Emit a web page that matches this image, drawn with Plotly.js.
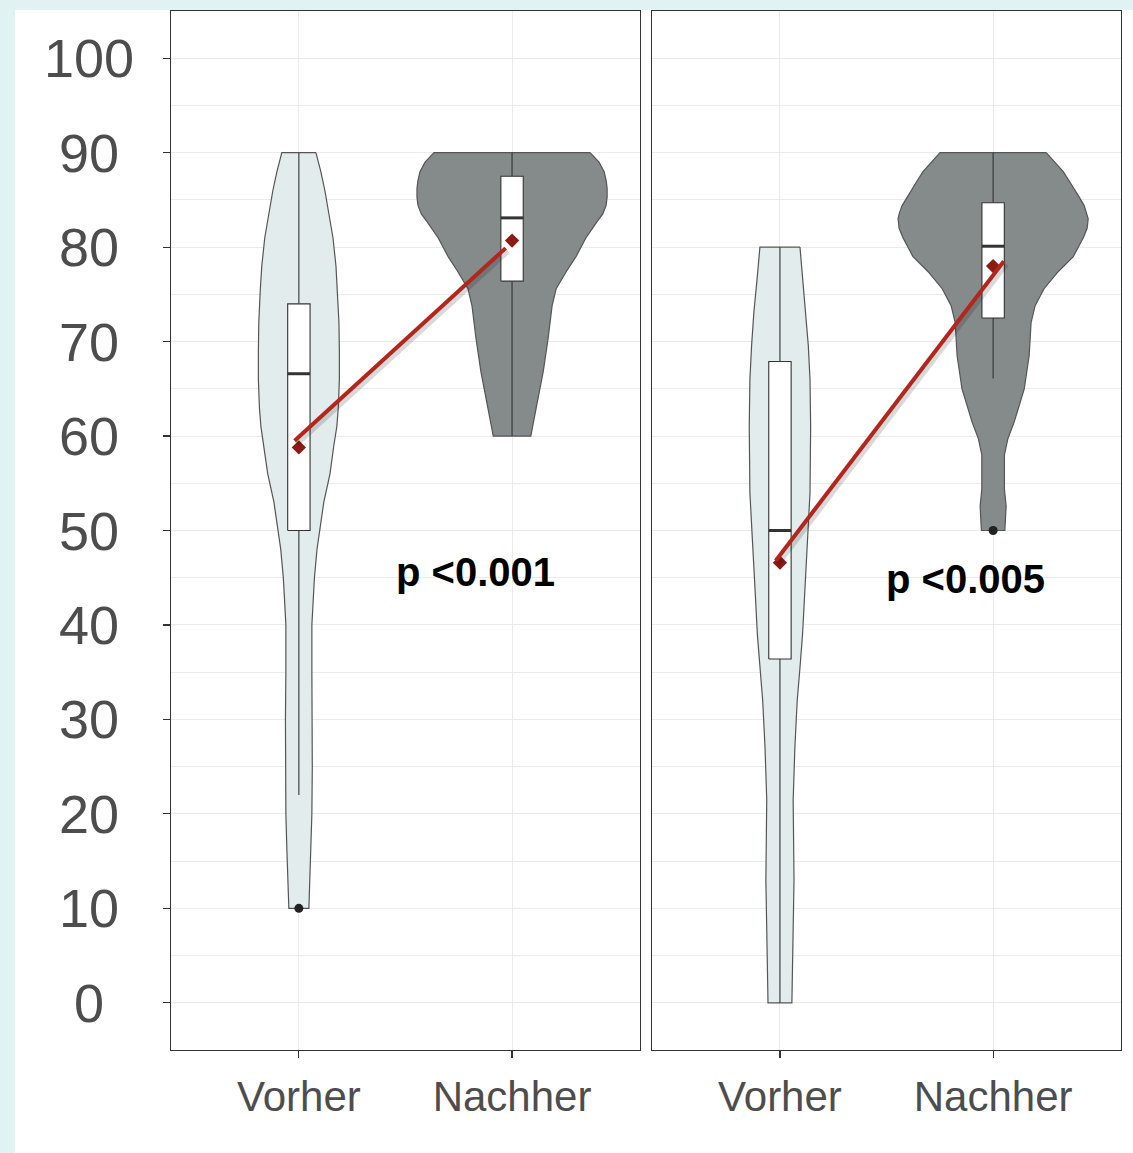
<!DOCTYPE html>
<html>
<head>
<meta charset="utf-8">
<script src="https://cdn.plot.ly/plotly-3.0.1.min.js"></script>
<style>
  html, body { margin: 0; padding: 0; background: #e0f2f2; width: 1133px; height: 1153px; overflow: hidden; }
  #chart { position: absolute; left: 15px; top: 10px; width: 1118px; height: 1143px; background: #ffffff; }
</style>
</head>
<body>
<div id="chart"></div>
<script>
// ---------------- data ----------------
const categories = ['Vorher', 'Nachher'];
const yTicks = [0, 10, 20, 30, 40, 50, 60, 70, 80, 90, 100];

// violin outlines: y levels and half-widths (category units)
const leftVorherY  = [90, 88, 86, 83, 81, 78, 75.5, 72, 69, 66, 63, 61, 59, 56, 53, 51, 48, 45, 43, 40, 35, 30, 25, 20, 16, 12.5, 10];
const leftVorherW  = [0.080, 0.103, 0.122, 0.146, 0.160, 0.174, 0.181, 0.188, 0.190, 0.190, 0.185, 0.178, 0.164, 0.146, 0.117, 0.103, 0.085, 0.073, 0.068, 0.061, 0.061, 0.063, 0.063, 0.061, 0.056, 0.052, 0.047];
const leftNachherY = [90, 89, 88, 87, 86.2, 85.3, 84.4, 83.5, 82.7, 81, 79, 77.4, 75.6, 73.8, 70.3, 66.8, 63.2, 60];
const leftNachherW = [0.366, 0.408, 0.432, 0.442, 0.446, 0.446, 0.441, 0.425, 0.399, 0.347, 0.300, 0.254, 0.207, 0.188, 0.169, 0.146, 0.115, 0.088];
const rightVorherY  = [80, 76.7, 73.2, 69.6, 66, 61, 54, 48.4, 43, 39, 35.5, 32, 27, 21.5, 13, 7.5, 4, 0];
const rightVorherW  = [0.094, 0.107, 0.122, 0.133, 0.141, 0.144, 0.141, 0.128, 0.115, 0.106, 0.094, 0.081, 0.070, 0.062, 0.066, 0.062, 0.060, 0.056];
const rightNachherY = [90, 89, 88, 87, 86.2, 85.3, 84.4, 83.6, 83, 82, 81, 79, 77.4, 75.6, 73.8, 72, 68.5, 65, 61.5, 59.7, 58, 54.4, 52.6, 50];
const rightNachherW = [0.249, 0.291, 0.329, 0.357, 0.380, 0.404, 0.427, 0.440, 0.446, 0.441, 0.423, 0.376, 0.305, 0.239, 0.197, 0.178, 0.169, 0.146, 0.099, 0.069, 0.053, 0.053, 0.061, 0.055];

// box statistics [Vorher, Nachher]
const leftQ1 = [50, 76.4],  leftMedian = [66.6, 83.1],  leftQ3 = [74, 87.5],  leftLow = [22, 60],  leftHigh = [90, 90];
const rightQ1 = [36.4, 72.5], rightMedian = [50, 80.1], rightQ3 = [67.9, 84.7], rightLow = [0, 66.1], rightHigh = [80, 90];
const leftMean = [58.8, 80.7];
const rightMean = [46.6, 78.0];
const leftOutliers = [10, null];
const rightOutliers = [null, 50];

// red connecting lines (as drawn)
const leftLineX = [0.98, 1.97],  leftLineY = [59.5, 79.9];
const rightLineX = [0.98, 2.05], rightLineY = [46.8, 78.5];

// p-value labels
const pLabels = ['p <0.001', 'p <0.005'];
const pX = [1.83, 1.87];
const pY = [45.6, 44.9];

// ---------------- drawing ----------------
const catPos = [1, 2];
const boxWidth = 0.105;
const lightFill = '#e2ecec', darkFill = '#848b8a';
const inkCol = '#333333';

function violin(c, ys, ws, fill, xa, ya) {
  const xs = [], yy = [];
  for (let i = 0; i < ys.length; i++) { xs.push(c + ws[i]); yy.push(ys[i]); }
  for (let i = ys.length - 1; i >= 0; i--) { xs.push(c - ws[i]); yy.push(ys[i]); }
  xs.push(xs[0]); yy.push(yy[0]);
  return { type: 'scatter', mode: 'lines', x: xs, y: yy, fill: 'toself', fillcolor: fill,
           line: { color: '#555555', width: 1.2 }, xaxis: xa, yaxis: ya, hoverinfo: 'skip', showlegend: false };
}

function boxes(q1, med, q3, lo, hi, xa, ya) {
  const out = [];
  const h = boxWidth / 2;
  for (let i = 0; i < 2; i++) {
    const c = catPos[i];
    out.push({ type: 'scatter', mode: 'lines', x: [c, c, null, c, c], y: [q3[i], hi[i], null, q1[i], lo[i]],
      line: { color: inkCol, width: 1.1 }, xaxis: xa, yaxis: ya, hoverinfo: 'skip', showlegend: false });
    out.push({ type: 'scatter', mode: 'lines', x: [c - h, c + h, c + h, c - h, c - h],
      y: [q1[i], q1[i], q3[i], q3[i], q1[i]], fill: 'toself', fillcolor: '#ffffff',
      line: { color: inkCol, width: 1.1 }, xaxis: xa, yaxis: ya, hoverinfo: 'skip', showlegend: false });
    out.push({ type: 'scatter', mode: 'lines', x: [c - h, c + h], y: [med[i], med[i]],
      line: { color: inkCol, width: 3 }, xaxis: xa, yaxis: ya, hoverinfo: 'skip', showlegend: false });
  }
  return out;
}

function outliers(vals, xa, ya) {
  const xs = [], ys = [];
  vals.forEach((v, i) => { if (v !== null) { xs.push(catPos[i]); ys.push(v); } });
  return { type: 'scatter', mode: 'markers', x: xs, y: ys, marker: { color: '#222222', size: 9 },
           xaxis: xa, yaxis: ya, hoverinfo: 'skip', showlegend: false };
}

function redLine(xs, ys, xa, ya) {
  return [
    { type: 'scatter', mode: 'lines', x: xs.map(v => v + 0.01), y: ys.map(v => v - 0.3),
      line: { color: 'rgba(0,0,0,0.15)', width: 6 }, xaxis: xa, yaxis: ya, hoverinfo: 'skip', showlegend: false },
    { type: 'scatter', mode: 'lines', x: xs, y: ys, line: { color: '#b3261c', width: 4 },
      xaxis: xa, yaxis: ya, hoverinfo: 'skip', showlegend: false }
  ];
}

function means(vals, xa, ya) {
  return { type: 'scatter', mode: 'markers', x: catPos, y: vals,
           marker: { symbol: 'diamond', color: '#8b1a14', size: 11 }, xaxis: xa, yaxis: ya,
           hoverinfo: 'skip', showlegend: false };
}

const traces = [
  violin(1, leftVorherY, leftVorherW, lightFill, 'x', 'y'),
  violin(2, leftNachherY, leftNachherW, darkFill, 'x', 'y'),
  violin(1, rightVorherY, rightVorherW, lightFill, 'x2', 'y2'),
  violin(2, rightNachherY, rightNachherW, darkFill, 'x2', 'y2'),
  ...boxes(leftQ1, leftMedian, leftQ3, leftLow, leftHigh, 'x', 'y'),
  ...boxes(rightQ1, rightMedian, rightQ3, rightLow, rightHigh, 'x2', 'y2'),
  outliers(leftOutliers, 'x', 'y'),
  outliers(rightOutliers, 'x2', 'y2'),
  means(leftMean, 'x', 'y'),
  means(rightMean, 'x2', 'y2'),
  ...redLine(leftLineX, leftLineY, 'x', 'y'),
  ...redLine(rightLineX, rightLineY, 'x2', 'y2')
];

const fontFam = 'Liberation Sans, Arial, Helvetica, sans-serif';
const gridCol = '#ebebeb';

function xAxis(domain, anchor) {
  return { domain: domain, anchor: anchor, range: [0.4, 2.6], tickvals: catPos, ticktext: categories,
    showgrid: true, gridcolor: gridCol, gridwidth: 1, zeroline: false,
    showline: true, mirror: true, linecolor: '#333333', linewidth: 1.4,
    ticks: 'outside', ticklen: 7, tickcolor: '#333333', tickwidth: 1.2,
    ticklabelstandoff: 2,
    tickfont: { family: fontFam, size: 42, color: '#4d4d4d' }, fixedrange: true };
}
function yAxis(anchor, ticks) {
  return { domain: [0.0901, 0.9991], anchor: anchor, range: [-5, 105], tickvals: yTicks,
    showgrid: true, gridcolor: gridCol, gridwidth: 1, zeroline: false,
    minor: { dtick: 5, tick0: 0, showgrid: true, gridcolor: gridCol, gridwidth: 1, ticks: '' },
    showline: true, mirror: true, linecolor: '#333333', linewidth: 1.4,
    ticks: ticks ? 'outside' : '', ticklen: 7, tickcolor: '#333333', tickwidth: 1.2,
    showticklabels: false, fixedrange: true };
}

// y tick labels: centred horizontally (as in the reference)
const yLabelAnnotations = yTicks.map(v => ({
  text: String(v), x: 0.0662, xref: 'paper', y: v, yref: 'y', showarrow: false,
  xanchor: 'center', yanchor: 'middle',
  font: { family: fontFam, size: 54, color: '#4d4d4d' }
}));

const pAnnotations = pLabels.map((t, i) => ({
  text: t, x: pX[i], y: pY[i], xref: i === 0 ? 'x' : 'x2', yref: i === 0 ? 'y' : 'y2',
  showarrow: false, font: { family: fontFam, size: 40, color: '#000000', weight: 'bold' },
  xanchor: 'center', yanchor: 'middle'
}));

const layout = {
  width: 1118, height: 1143,
  margin: { l: 0, r: 0, t: 0, b: 0 },
  paper_bgcolor: '#ffffff', plot_bgcolor: '#ffffff',
  showlegend: false,
  xaxis: xAxis([0.1395, 0.5590], 'y'),
  xaxis2: xAxis([0.5698, 0.9893], 'y2'),
  yaxis: yAxis('x', true),
  yaxis2: Object.assign(yAxis('x2', false), { matches: 'y' }),
  annotations: yLabelAnnotations.concat(pAnnotations)
};

Plotly.newPlot('chart', traces, layout, { staticPlot: true, displayModeBar: false });
</script>
</body>
</html>
